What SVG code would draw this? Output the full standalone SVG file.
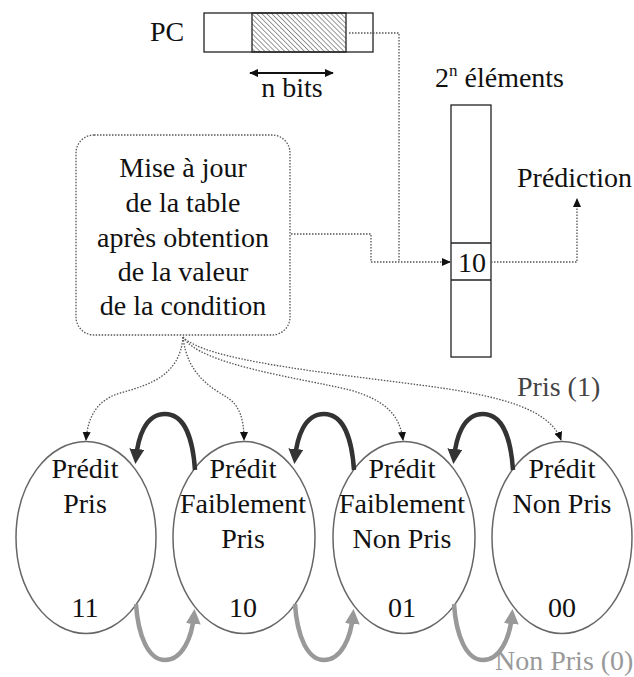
<svg xmlns="http://www.w3.org/2000/svg" width="634" height="677" viewBox="0 0 634 677">
<style>
text{font-family:'Liberation Serif','Times New Roman',serif;font-size:28px;fill:#111}
.c{text-anchor:middle}
.dot{fill:none;stroke:#555;stroke-width:1.3;stroke-dasharray:1.5 1.5}
.ell{fill:#fff;stroke:#666;stroke-width:1.5}
.blk{fill:#fff;stroke:#222;stroke-width:1.3}
.dark{fill:none;stroke:#333;stroke-width:4.5}
.gray{fill:none;stroke:#999;stroke-width:4.5}
</style>
<defs>
<pattern id="hatch" width="3.5" height="3.5" patternUnits="userSpaceOnUse" patternTransform="rotate(-45)">
<line x1="0" y1="0" x2="0" y2="3.5" stroke="#333" stroke-width="1"/>
</pattern>
<marker id="as" viewBox="0 0 10 10" refX="9" refY="5" markerWidth="9" markerHeight="9" markerUnits="userSpaceOnUse" orient="auto"><path d="M0,0.5 L10,5 L0,9.5 z" fill="#111"/></marker>
<marker id="ab" viewBox="0 0 10 10" refX="9" refY="5" markerWidth="9" markerHeight="9" markerUnits="userSpaceOnUse" orient="auto-start-reverse"><path d="M0,0.5 L10,5 L0,9.5 z" fill="#111"/></marker>
<marker id="adk" viewBox="0 0 10 10" refX="6" refY="5" markerWidth="15" markerHeight="15" markerUnits="userSpaceOnUse" orient="auto"><path d="M0,0 L10,5 L0,10 z" fill="#333"/></marker>
<marker id="agr" viewBox="0 0 10 10" refX="6" refY="5" markerWidth="15" markerHeight="15" markerUnits="userSpaceOnUse" orient="auto"><path d="M0,0 L10,5 L0,10 z" fill="#999"/></marker>
</defs>

<g id="pc">
<text x="150" y="41">PC</text>
<rect x="204" y="13" width="169" height="39" class="blk"/>
<rect x="252" y="13" width="94" height="39" fill="url(#hatch)" stroke="#222" stroke-width="1.3"/>
</g>

<g id="nbits">
<line x1="250" y1="73" x2="333" y2="73" stroke="#111" stroke-width="2" marker-start="url(#ab)" marker-end="url(#ab)"/>
<text x="292" y="97" class="c">n bits</text>
</g>

<g id="table">
<text x="435" y="87">2<tspan font-size="17" dy="-11">n</tspan><tspan dy="11"> éléments</tspan></text>
<rect x="451" y="105" width="40" height="252" class="blk"/>
<line x1="451" y1="243" x2="491" y2="243" stroke="#222" stroke-width="1.3"/>
<line x1="451" y1="280" x2="491" y2="280" stroke="#222" stroke-width="1.3"/>
<text x="472" y="272" class="c">10</text>
</g>

<g id="prediction">
<text x="517" y="187">Prédiction</text>
</g>

<g id="update">
<rect x="76" y="135" width="214" height="200" rx="18" ry="18" fill="#fff" class="dot"/>
<text class="c" x="183" y="177">Mise à jour</text>
<text class="c" x="183" y="212">de la table</text>
<text class="c" x="183" y="247">après obtention</text>
<text class="c" x="183" y="281">de la valeur</text>
<text class="c" x="183" y="315">de la condition</text>
</g>

<g id="s11">
<ellipse cx="86" cy="537.5" rx="70" ry="96" class="ell"/>
<text class="c" x="85" y="478">Prédit</text>
<text class="c" x="85" y="513">Pris</text>
<text class="c" x="85" y="617">11</text>
</g>
<g id="s10">
<ellipse cx="244" cy="537.5" rx="71" ry="96" class="ell"/>
<text class="c" x="243" y="478">Prédit</text>
<text class="c" x="243" y="513">Faiblement</text>
<text class="c" x="243" y="548">Pris</text>
<text class="c" x="243" y="617">10</text>
</g>
<g id="s01">
<ellipse cx="404" cy="537.5" rx="71" ry="96" class="ell"/>
<text class="c" x="402" y="478">Prédit</text>
<text class="c" x="402" y="513">Faiblement</text>
<text class="c" x="402" y="548">Non Pris</text>
<text class="c" x="402" y="617">01</text>
</g>
<g id="s00">
<ellipse cx="562" cy="537.5" rx="70" ry="96" class="ell"/>
<text class="c" x="562" y="478">Prédit</text>
<text class="c" x="562" y="513">Non Pris</text>
<text class="c" x="562" y="617">00</text>
</g>

<g id="labels">
<text x="517" y="396" style="fill:#444">Pris (1)</text>
<text x="495" y="670" style="fill:#999">Non Pris (0)</text>
</g>

<g id="connectors">
<path class="dot" d="M349,33 H399 V262"/>
<path class="dot" d="M291,234 H371 V262 H450" marker-end="url(#as)"/>
<path class="dot" d="M491,262 H577 V199" marker-end="url(#as)"/>
<path class="dot" d="M183,337 C180,375 150,385 120,393 C98,400 88,415 86,440" marker-end="url(#as)"/>
<path class="dot" d="M183,337 C187,375 212,388 228,398 C240,406 244,420 244,440" marker-end="url(#as)"/>
<path class="dot" d="M183,337 C200,365 300,378 350,390 C385,400 400,415 403,440" marker-end="url(#as)"/>
<path class="dot" d="M183,337 C205,360 320,372 420,385 C505,396 550,410 561,440" marker-end="url(#as)"/>
<path class="dark" d="M195,470 C193,440 185,414 165,414 C145,414 138,438 136,458" marker-end="url(#adk)"/>
<path class="dark" d="M354,470 C352,440 344,414 324,414 C304,414 297,438 295,458" marker-end="url(#adk)"/>
<path class="dark" d="M513,470 C511,440 503,414 483,414 C463,414 456,438 454,458" marker-end="url(#adk)"/>
<path class="gray" d="M136,604 C138,635 148,660 165,660 C182,660 192,638 194,615" marker-end="url(#agr)"/>
<path class="gray" d="M295,604 C297,635 307,660 324,660 C341,660 351,638 353,615" marker-end="url(#agr)"/>
<path class="gray" d="M454,604 C456,635 466,660 483,660 C500,660 510,638 512,615" marker-end="url(#agr)"/>
</g>
</svg>
